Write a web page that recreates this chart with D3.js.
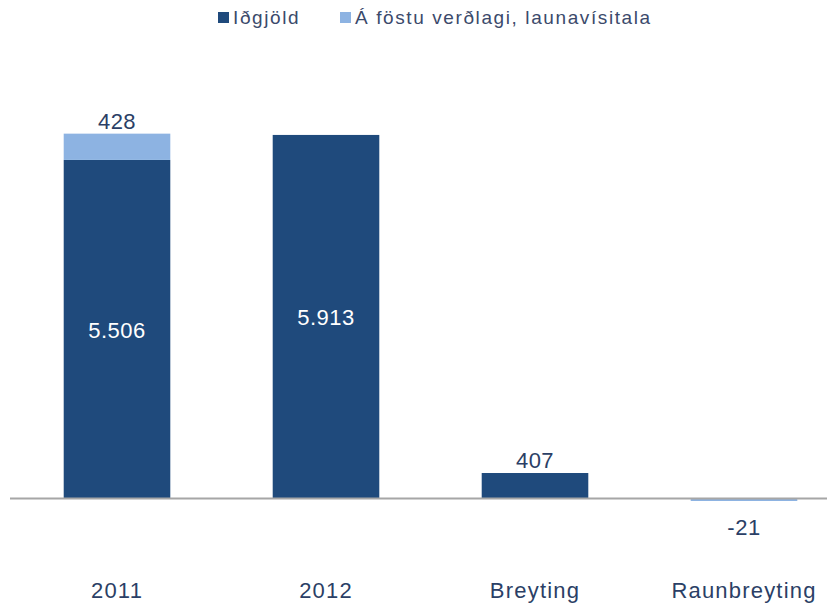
<!DOCTYPE html>
<html lang="is">
<head>
<meta charset="UTF-8" />
<title>Iðgjöld</title>
<script src="https://d3js.org/d3.v7.min.js"></script>
<style>
  body { margin: 0; background: #fff; }
  text { font-family: "Liberation Sans", Arial, sans-serif; }
</style>
</head>
<body>
<svg id="chart" width="827" height="604"></svg>
<script>
// data
const categories = ["2011", "2012", "Breyting", "Raunbreyting"];
const seriesNames = ["Iðgjöld", "Á föstu verðlagi, launavísitala"];
const idgjold = [5506, 5913, 407, 0];
const fastVerdlag = [428, 0, 0, -21];

const colors = ["#1f4a7c", "#8db3e2"];

const svg = d3.select("#chart");
const width = +svg.attr("width");

const rows = categories.map((c, i) => ({ cat: c, s0: idgjold[i], s1: fastVerdlag[i] }));
const stacked = d3.stack().keys(["s0", "s1"]).offset(d3.stackOffsetDiverging)(rows);

const x = d3.scaleBand()
  .domain(categories)
  .range([12.5, 848.5])
  .paddingInner(0.49)
  .paddingOuter(0.245);

const y = d3.scaleLinear()
  .domain([0, 6000])
  .range([498, 129.6]);

const isl = d3.formatLocale({ decimal: ",", thousands: ".", grouping: [3], currency: ["", " kr."], minus: "-" });
const fmt = isl.format(",d");

// bars
const layers = svg.append("g").selectAll("g")
  .data(stacked)
  .join("g")
  .attr("fill", (d, i) => colors[i]);

layers.selectAll("rect")
  .data(d => d.filter(p => p[1] !== p[0]))
  .join("rect")
  .attr("x", d => x(d.data.cat))
  .attr("width", x.bandwidth())
  .attr("y", d => y(Math.max(d[0], d[1])))
  .attr("height", d => Math.max(3, Math.abs(y(d[0]) - y(d[1]))));

// zero line
svg.append("line")
  .attr("x1", 10).attr("x2", width)
  .attr("y1", y(0) + 0.5).attr("y2", y(0) + 0.5)
  .attr("stroke", "#a6a6a6")
  .attr("stroke-width", 2);

// value labels
const labels = [];
stacked.forEach((layer, li) => {
  layer.forEach(p => {
    const v = p.data[layer.key];
    if (v === 0) return;
    const cx = x(p.data.cat) + x.bandwidth() / 2;
    if (li === 0 && v > 1000) {
      labels.push({ x: cx, y: (y(p[0]) + y(p[1])) / 2 + 9, v, fill: "#ffffff" });
    } else if (v >= 0) {
      labels.push({ x: cx, y: y(p[1]) - 5, v, fill: "#2b3f66" });
    } else {
      labels.push({ x: cx, y: y(p[0]) + 36, v, fill: "#2b3f66" });
    }
  });
});

svg.append("g").selectAll("text")
  .data(labels)
  .join("text")
  .attr("x", d => d.x)
  .attr("y", d => d.y)
  .attr("text-anchor", "middle")
  .attr("font-size", 22)
  .attr("letter-spacing", 0.5)
  .attr("fill", d => d.fill)
  .text(d => fmt(d.v));

// category axis labels
const axis = svg.append("g")
  .attr("transform", "translate(0,598)")
  .call(d3.axisBottom(x).tickSize(0).tickPadding(0));
axis.select(".domain").remove();
axis.selectAll("text")
  .attr("dy", 0)
  .attr("font-size", 22)
  .attr("letter-spacing", 1.2)
  .attr("font-family", "Liberation Sans, Arial, sans-serif")
  .attr("fill", "#2b3f66");

// legend
const legendX = [218, 340];
const legend = svg.append("g").selectAll("g")
  .data(seriesNames)
  .join("g")
  .attr("transform", (d, i) => `translate(${legendX[i]},12)`);
legend.append("rect")
  .attr("width", 11).attr("height", 11)
  .attr("fill", (d, i) => colors[i]);
legend.append("text")
  .attr("x", 15).attr("y", 12)
  .attr("font-family", "DejaVu Sans, sans-serif")
  .attr("font-size", 19)
  .attr("letter-spacing", 1.6)
  .attr("fill", "#3b4a6b")
  .text(d => d);
</script>
</body>
</html>
